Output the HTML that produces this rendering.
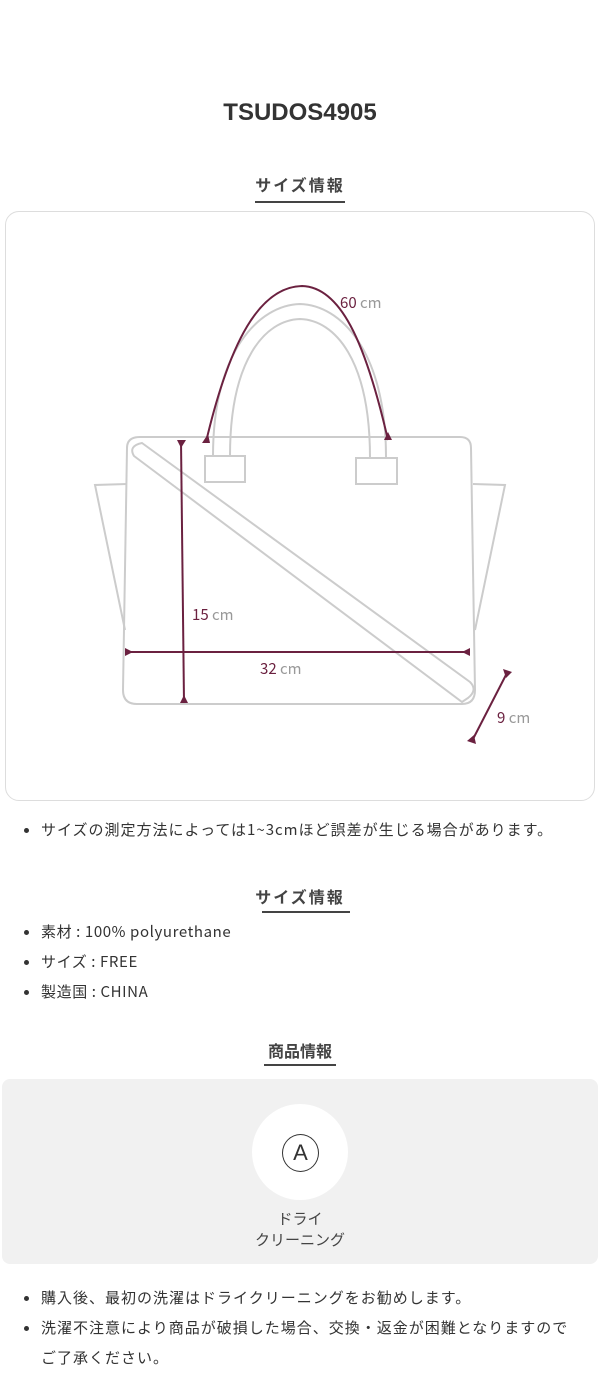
<!DOCTYPE html>
<html><head><meta charset="utf-8"><style>
*{margin:0;padding:0;box-sizing:border-box}
body{width:600px;height:1390px;background:#fff;position:relative;font-family:"Liberation Sans","Noto Sans CJK JP",sans-serif;color:#333;overflow:hidden}
.a{position:absolute}
.c{left:0;width:600px;text-align:center}
.h{font-size:16px;font-weight:bold;color:#444;letter-spacing:2px;font-family:"Noto Sans CJK JP",sans-serif}
.ul{position:absolute;height:2px;background:#444}
.li{position:absolute;left:41px;font-size:15px;letter-spacing:0.6px;color:#333;white-space:nowrap;font-family:"Noto Sans CJK JP",sans-serif;line-height:20px}
.li.j{letter-spacing:1px}
.li:before{content:"";position:absolute;left:-17px;top:8px;width:5px;height:5px;border-radius:50%;background:#333}
</style></head><body>
<div class="a c" style="top:99px;font-size:24px;font-weight:bold;color:#333">TSUDOS4905</div>
<div class="a c h" style="top:172px">サイズ情報</div>
<div class="ul" style="left:255px;width:90px;top:201px"></div>
<div class="a" style="left:5px;top:211px;width:590px;height:590px;border:1.5px solid #ddd;border-radius:14px"></div>
<svg class="a" style="left:0;top:0" width="600" height="810">
<g fill="none" stroke="#ccc" stroke-width="2">
<path d="M127,484 L95,485 L125,630"/>
<path d="M473,484 L505,485 L475,630"/>
<path d="M140,437 L460,437 Q471,437 471,448 L475,690 Q475,704 462,704 L137,704 Q123,704 123,690 L127,448 Q127,437 140,437 Z"/>
<path d="M213,456 C213,350 260,305 300,304 C340,305 386,350 386,457"/>
<path d="M230,456 C230,360 265,320 300,319 C335,320 370,360 370,458"/>
<rect x="205" y="456" width="40" height="26" fill="#fff"/>
<rect x="356" y="458" width="41" height="26" fill="#fff"/>
<path d="M142,443 L470,682 Q478,690 468,698 L462,702 L134,456 Q128,446 142,443 Z"/>
</g>
<g fill="none" stroke="#6b2140" stroke-width="2">
<path d="M206,442 C230,340 260,287 302,286 C340,287 365,340 388,440"/>
<line x1="181" y1="441" x2="184" y2="702"/>
<line x1="126" y1="652" x2="469" y2="652"/>
<line x1="508" y1="671" x2="472" y2="741"/>
</g>
<g fill="#6b2140">
<path d="M202,443 L210,443 L208,434Z"/><path d="M384,440 L392,440 L388,432Z"/>
<path d="M177,440 L186,440 L181,448Z"/><path d="M180,703 L188,703 L184,695Z"/>
<path d="M125,648 L125,656 L133,652Z"/><path d="M470,648 L470,656 L462,652Z"/>
<path d="M503,669 L512,672 L506,678Z"/><path d="M467,741 L476,744 L474,735Z"/>
</g>
<g font-family="Noto Sans CJK JP,sans-serif" font-size="15">
<text x="340" y="308" fill="#6b2140">60 <tspan fill="#999">cm</tspan></text>
<text x="192" y="620" fill="#6b2140">15 <tspan fill="#999">cm</tspan></text>
<text x="260" y="674" fill="#6b2140">32 <tspan fill="#999">cm</tspan></text>
<text x="497" y="723" fill="#6b2140">9 <tspan fill="#999">cm</tspan></text>
</g>
</svg>
<div class="li j" style="top:820px">サイズの測定方法によっては1~3cmほど誤差が生じる場合があります。</div>
<div class="a c h" style="top:884px">サイズ情報</div>
<div class="ul" style="left:262px;width:88px;top:911px"></div>
<div class="li" style="top:922px">素材 : 100% polyurethane</div>
<div class="li" style="top:952px">サイズ : FREE</div>
<div class="li" style="top:982px">製造国 : CHINA</div>
<div class="a c h" style="top:1038px;letter-spacing:0">商品情報</div>
<div class="ul" style="left:264px;width:72px;top:1064px"></div>
<div class="a" style="left:2px;top:1079px;width:596px;height:185px;background:#f1f1f1;border-radius:8px"></div>
<div class="a" style="left:252px;top:1104px;width:96px;height:96px;border-radius:50%;background:#fff"></div>
<div class="a" style="left:282px;top:1134px;width:37px;height:38px;border-radius:50%;border:1.2px solid #333;text-align:center;font-size:22px;line-height:36px;color:#333">A</div>
<div class="a c" style="top:1208px;font-size:15px;line-height:21px;color:#444;font-family:'Noto Sans CJK JP',sans-serif">ドライ<br>クリーニング</div>
<div class="li j" style="top:1288px">購入後、最初の洗濯はドライクリーニングをお勧めします。</div>
<div class="li j" style="top:1318px">洗濯不注意により商品が破損した場合、交換・返金が困難となりますので</div>
<div class="a" style="left:41px;top:1348px;font-size:15px;letter-spacing:1px;line-height:20px;color:#333;font-family:'Noto Sans CJK JP',sans-serif">ご了承ください。</div>
</body></html>
